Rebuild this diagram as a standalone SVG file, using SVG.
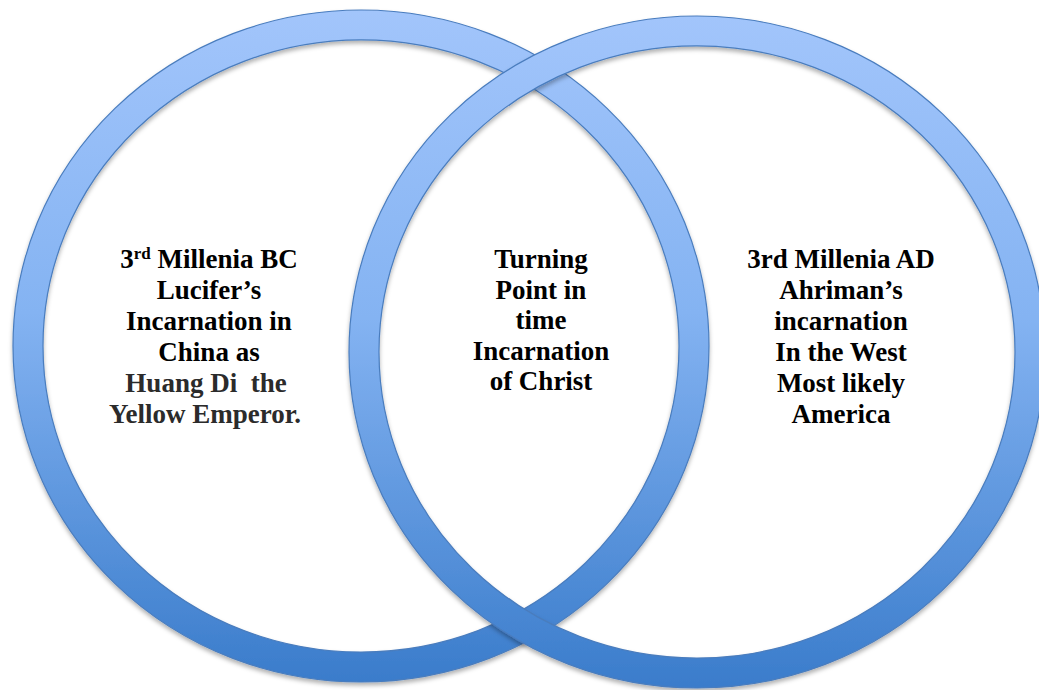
<svg xmlns="http://www.w3.org/2000/svg" width="1039" height="690" viewBox="0 0 1039 690">
  <style>
    .ring { fill: url(#ringGrad); stroke: #4A7DBE; stroke-width: 1.2; fill-rule: evenodd; filter: url(#shadow); }
    .lbl { font-family: "Liberation Serif", "DejaVu Serif", serif; font-weight: bold; font-size: 27px; text-anchor: middle; fill: #000; white-space: pre; }
    .gray { fill: #2b2b2b; }
  </style>
  <defs>
    <linearGradient id="ringGrad" x1="0" y1="0" x2="0" y2="1">
      <stop offset="0" stop-color="#A2C5FB"/>
      <stop offset="0.45" stop-color="#84B3F2"/>
      <stop offset="1" stop-color="#3A7CCB"/>
    </linearGradient>
    <filter id="shadow" x="-10%" y="-10%" width="120%" height="120%">
      <feDropShadow dx="0" dy="3" stdDeviation="2.2" flood-color="#000" flood-opacity="0.3"/>
    </filter>
  </defs>
  <rect width="1039" height="690" fill="#fff"/>

  <g id="left-circle">
    <path class="ring" d="M13,346 a348,336 0 1,0 696,0 a348,336 0 1,0 -696,0 Z M43,346 a318,306 0 1,0 636,0 a318,306 0 1,0 -636,0 Z"/>
    <text class="lbl" x="209" y="268">3<tspan font-size="17" dy="-9">rd</tspan><tspan dy="9"> Millenia BC</tspan></text>
    <text class="lbl" x="209" y="299">Lucifer’s</text>
    <text class="lbl" x="209" y="330">Incarnation in</text>
    <text class="lbl" x="209" y="361">China as</text>
    <text class="lbl gray" x="206" y="392" xml:space="preserve">Huang Di  the</text>
    <text class="lbl gray" x="205" y="423">Yellow Emperor.</text>
  </g>

  <g id="right-circle">
    <path class="ring" d="M349,352 a348,336 0 1,0 696,0 a348,336 0 1,0 -696,0 Z M379,352 a318,306 0 1,0 636,0 a318,306 0 1,0 -636,0 Z"/>
    <text class="lbl" x="841" y="268">3rd Millenia AD</text>
    <text class="lbl" x="841" y="299">Ahriman’s</text>
    <text class="lbl" x="841" y="330">incarnation</text>
    <text class="lbl" x="841" y="361">In the West</text>
    <text class="lbl" x="841" y="392">Most likely</text>
    <text class="lbl" x="841" y="423">America</text>
  </g>

  <g id="overlap">
    <text class="lbl" x="541" y="268">Turning</text>
    <text class="lbl" x="541" y="298.5">Point in</text>
    <text class="lbl" x="541" y="329">time</text>
    <text class="lbl" x="541" y="359.5">Incarnation</text>
    <text class="lbl" x="541" y="390">of Christ</text>
  </g>

  <g id="connectors"/>
</svg>
